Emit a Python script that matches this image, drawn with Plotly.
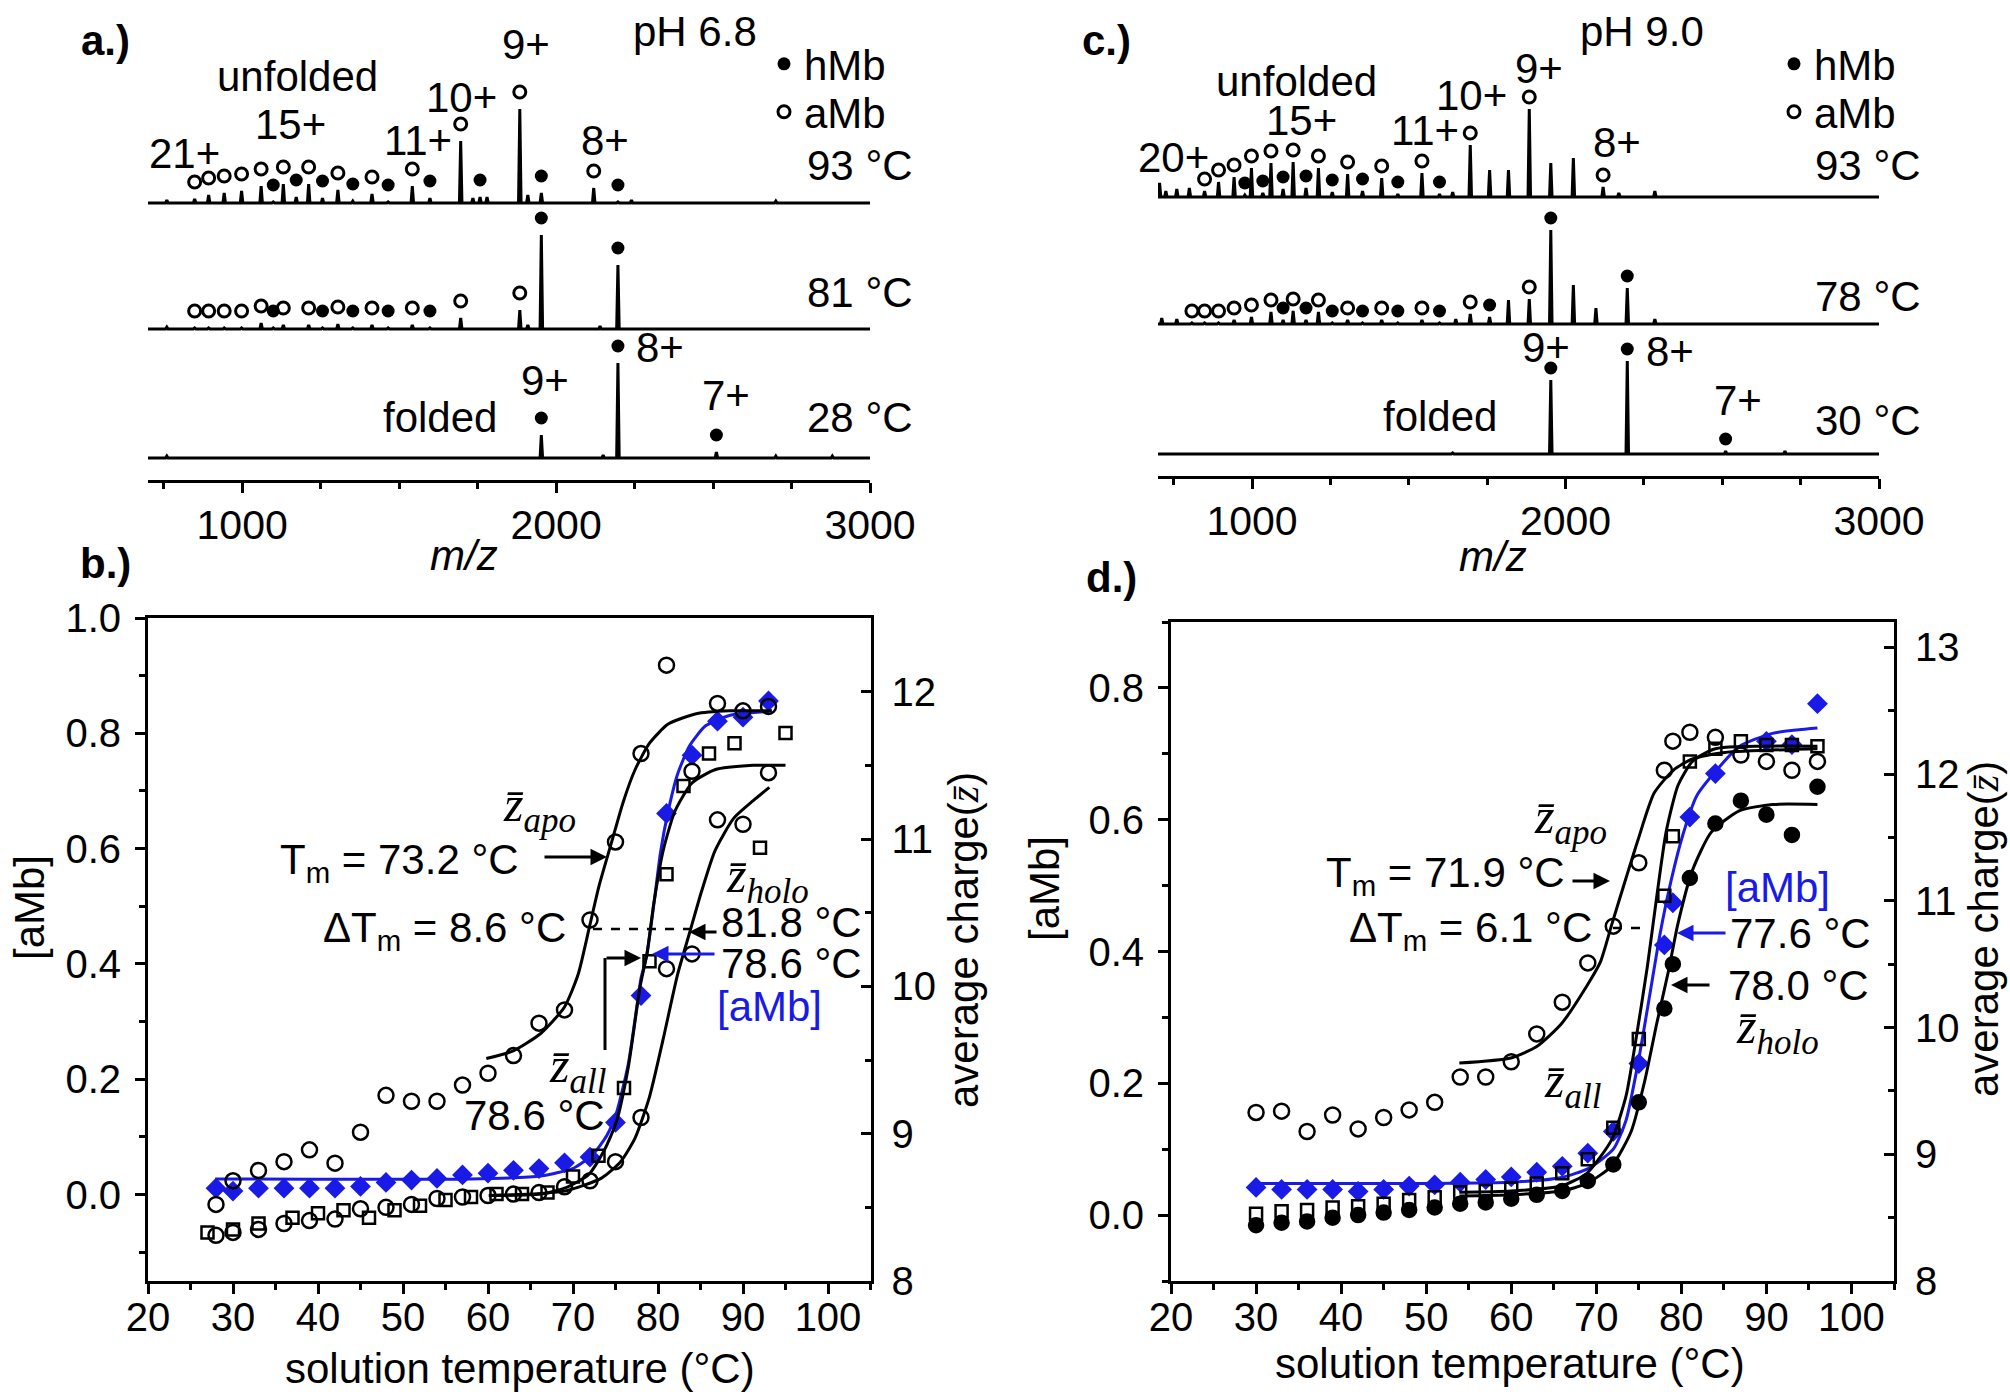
import plotly.graph_objects as go

W, H = 2010, 1396
FONT = "Liberation Sans, Arial, sans-serif"
SERIF = "Liberation Serif, Times New Roman, serif"
BLUE = "#1a1ae6"
FS = 42      # annotation text
FT = 40      # tick labels
ZS = 50      # z-bar labels

# ---------------- mass spectra data (m/z, relative intensity) ----------------
# panel a, pH 6.8
a93_amb_mz = [848.6, 893.2, 942.7, 998.1, 1060.4, 1131.1, 1211.8, 1304.9, 1413.6, 1542.0, 1696.1, 1884.4, 2119.9]
a93_amb_int = [4, 8, 10, 12, 17, 19, 19, 13, 9, 17, 62, 94, 15]
a93_hmb_mz = [1099.0, 1172.2, 1255.9, 1352.4, 1465.0, 1598.1, 1757.8, 1953.0, 2197.0]
a93_hmb_int = [1, 6, 5, 2, 1, 5, 6, 10, 1]
a93_oth_mz = [760, 1735, 1780, 1910, 2240, 2700]
a93_oth_int = [3, 5, 6, 8, 3, 2]

a81_amb_mz = [848.6, 893.2, 942.7, 998.1, 1060.4, 1131.1, 1211.8, 1304.9, 1413.6, 1542.0, 1696.1, 1884.4]
a81_amb_int = [1, 1, 1, 1, 6, 4, 4, 5, 4, 4, 11, 19]
a81_hmb_mz = [1099.0, 1255.9, 1352.4, 1465.0, 1598.1, 1953.0, 2197.0]
a81_hmb_int = [1, 1, 1, 1, 1, 94, 64]
a81_oth_mz = [760, 1910, 2140]
a81_oth_int = [2, 4, 3]

a28_hmb_mz = [1953.0, 2197.0, 2510.7]
a28_hmb_int = [23, 95, 6]
a28_oth_mz = [760, 2150, 2700, 2880]
a28_oth_int = [2, 3, 2, 2]

# panel c, pH 9.0
c93_amb_mz = [848.6, 893.2, 942.7, 998.1, 1060.4, 1131.1, 1211.8, 1304.9, 1413.6, 1542.0, 1696.1, 1884.4, 2119.9]
c93_amb_int = [6, 15, 20, 29, 34, 35, 29, 23, 19, 24, 52, 88, 10]
c93_hmb_mz = [977.0, 1034.4, 1099.0, 1172.2, 1255.9, 1352.4, 1465.0, 1598.1]
c93_hmb_int = [2, 4, 8, 9, 5, 6, 3, 3]
c93_oth_mz = [705, 725, 760, 800, 1640, 1757.8, 1818, 1953.0, 2025, 2170, 2285]
c93_oth_int = [14, 6, 8, 9, 5, 27, 27, 34, 39, 4, 6]

c78_amb_mz = [808.2, 848.6, 893.2, 942.7, 998.1, 1060.4, 1131.1, 1211.8, 1304.9, 1413.6, 1542.0, 1696.1, 1884.4]
c78_amb_int = [1, 1, 1, 4, 7, 12, 13, 12, 4, 4, 4, 10, 25]
c78_hmb_mz = [1099.0, 1172.2, 1255.9, 1352.4, 1465.0, 1598.1, 1757.8, 1953.0, 2197.0]
c78_hmb_int = [4, 4, 1, 1, 1, 1, 7, 94, 36]
c78_oth_mz = [712, 760, 1650, 1818, 2025, 2097, 2285]
c78_oth_int = [6, 5, 5, 24, 39, 16, 5]

c30_hmb_mz = [1953.0, 2197.0, 2510.7]
c30_hmb_int = [74, 93, 3]
c30_oth_mz = [1640, 2700]
c30_oth_int = [1, 3]

mz_ticks = [1000, 2000, 3000]

# ---------------- melting curves ----------------
# panel b (pH 6.8)
b_T = [28, 30, 33, 36, 39, 42, 45, 48, 51, 54, 57, 60, 63, 66, 69, 72, 75, 78, 81, 84, 87, 90, 93]
b_amb = [0.011, 0.006, 0.011, 0.011, 0.011, 0.011, 0.014, 0.021, 0.025, 0.028, 0.034, 0.037, 0.042, 0.045,
         0.055, 0.065, 0.125, 0.345, 0.661, 0.762, 0.821, 0.828, 0.856]
b_zapo = [8.52, 8.68, 8.75, 8.81, 8.89, 8.80, 9.01, 9.26, 9.22, 9.22, 9.33, 9.41, 9.53, 9.75, 9.84, 10.45,
          10.98, 11.58, 12.18, 11.46, 11.92, 11.87, 11.90]
b_zholo = [8.31, 8.33, 8.35, 8.39, 8.41, 8.42, 8.49, 8.50, 8.52, 8.56, 8.57, 8.58, 8.59, 8.60, 8.64, 8.68,
           8.81, 9.11, 10.12, 10.22, 11.13, 11.10, 11.45]
b_T_all = [27, 30, 33, 37, 40, 43, 46, 49, 52, 55, 58, 61, 64, 67, 70, 73, 76, 79, 81, 83, 86, 89, 92, 95]
b_zall = [8.33, 8.35, 8.39, 8.43, 8.46, 8.48, 8.43, 8.48, 8.51, 8.55, 8.57, 8.59, 8.59, 8.60, 8.71, 8.85,
          9.31, 10.17, 10.76, 11.36, 11.58, 11.65, 10.94, 11.72]
b_fit_apo_T = [59.8, 62.9, 66.2, 69.0, 70.6, 72.0, 73.1, 74.5, 75.9, 77.3, 79.0, 81.2, 84.5, 88.4, 93.4]
b_fit_apo_z = [9.51, 9.56, 9.68, 9.86, 10.08, 10.42, 10.69, 10.97, 11.25, 11.47, 11.65, 11.78, 11.85, 11.87, 11.87]
b_fit_all_T = [60.1, 66.2, 69.0, 71.8, 73.7, 75.1, 76.5, 77.9, 78.7, 79.5, 80.6, 82.0, 84.0, 86.7, 91.2, 95.0]
b_fit_all_z = [8.58, 8.59, 8.63, 8.72, 8.89, 9.08, 9.45, 10.00, 10.22, 10.56, 10.92, 11.19, 11.38, 11.47, 11.50, 11.50]
b_fit_holo_T = [60.1, 69.0, 73.4, 75.6, 77.3, 79.0, 80.6, 82.3, 83.7, 85.1, 86.7, 88.9, 91.2, 93.1]
b_fit_holo_z = [8.58, 8.61, 8.70, 8.81, 8.97, 9.25, 9.64, 10.08, 10.36, 10.64, 10.92, 11.14, 11.26, 11.35]
b_fit_amb_T = [27.9, 57.9, 66.2, 70.1, 72.3, 74.0, 75.1, 76.5, 77.3, 78.0, 78.7, 79.5, 80.3, 81.2, 82.3, 83.7,
               85.6, 88.4, 93.1]
b_fit_amb = [0.027, 0.027, 0.032, 0.046, 0.069, 0.103, 0.141, 0.226, 0.304, 0.375, 0.417, 0.502, 0.594, 0.665,
             0.729, 0.778, 0.813, 0.831, 0.838]

# panel d (pH 9.0)
d_T = [30, 33, 36, 39, 42, 45, 48, 51, 54, 57, 60, 63, 66, 69, 72, 75, 78, 79, 81, 84, 87, 90, 93, 96]
d_zapo = [9.33, 9.34, 9.18, 9.31, 9.20, 9.29, 9.35, 9.41, 9.61, 9.61, 9.73, 9.95, 10.20, 10.51, 10.80, 11.30,
          12.03, 12.26, 12.33, 12.29, 12.15, 12.10, 12.03, 12.10]
d_zall = [8.53, 8.55, 8.56, 8.58, 8.59, 8.61, 8.64, 8.66, 8.70, 8.71, 8.73, 8.77, 8.85, 8.96, 9.21, 9.91,
          11.04, 11.51, 12.10, 12.20, 12.26, 12.23, 12.23, 12.22]
d_zholo = [8.44, 8.46, 8.47, 8.50, 8.52, 8.54, 8.56, 8.58, 8.61, 8.62, 8.65, 8.68, 8.71, 8.79, 8.92, 9.41,
           10.15, 10.50, 11.18, 11.61, 11.79, 11.68, 11.52, 11.90]
d_T_amb = [30, 33, 36, 39, 42, 45, 48, 51, 54, 57, 60, 63, 66, 69, 72, 75, 78, 79, 81, 84, 90, 93, 96]
d_amb = [0.042, 0.039, 0.039, 0.039, 0.036, 0.039, 0.044, 0.046, 0.050, 0.054, 0.058, 0.065, 0.074, 0.094,
         0.127, 0.230, 0.410, 0.474, 0.604, 0.670, 0.719, 0.714, 0.776]
d_fit_apo_T = [53.9, 59.95, 63.0, 65.9, 68.9, 70.5, 71.85, 73.5, 74.9, 76.8, 79.05, 81.3, 85.1, 96.0]
d_fit_apo_z = [9.72, 9.76, 9.85, 10.03, 10.33, 10.52, 10.82, 11.18, 11.48, 11.85, 12.03, 12.12, 12.17, 12.20]
d_fit_all_T = [53.9, 59.95, 65.9, 68.9, 71.85, 73.5, 74.6, 76.0, 77.1, 78.2, 79.6, 81.3, 84.0, 96.0]
d_fit_all_z = [8.70, 8.71, 8.75, 8.85, 9.12, 9.46, 9.88, 10.48, 11.03, 11.54, 11.91, 12.10, 12.20, 12.22]
d_fit_holo_T = [53.9, 59.95, 65.9, 68.9, 71.85, 74.1, 75.7, 77.1, 78.5, 79.6, 81.3, 83.5, 86.8, 90.7, 96.0]
d_fit_holo_z = [8.67, 8.68, 8.71, 8.77, 8.91, 9.18, 9.58, 10.03, 10.45, 10.82, 11.24, 11.54, 11.71, 11.76, 11.76]
d_fit_amb_T = [30.06, 59.95, 65.9, 69.1, 72.0, 73.5, 74.9, 76.3, 77.5, 78.8, 80.2, 81.8, 84.0, 86.8, 90.7, 96.0]
d_fit_amb = [0.048, 0.050, 0.057, 0.071, 0.100, 0.144, 0.230, 0.335, 0.427, 0.508, 0.578, 0.636, 0.673,
             0.711, 0.731, 0.739]


def px(X):
    return X / W


def py(Y):
    return 1 - Y / H


fig = go.Figure()


def stick(mz, inten, offset):
    pk = sorted(zip(mz, inten))
    xs, ys = [700], [offset]
    for m, h in pk:
        xs += [m - 4, m, m + 4]
        ys += [offset, offset + h, offset]
    xs.append(3000)
    ys.append(offset)
    return xs, ys


def add_spec(xa, ya, offset, pad, amb, amb_i, hmb, hmb_i, oth, oth_i, leg_h, leg_a, show):
    xs, ys = stick(amb + hmb + oth, amb_i + hmb_i + oth_i, offset)
    fig.add_trace(go.Scatter(x=xs, y=ys, mode="lines", line=dict(color="black", width=3),
                             xaxis=xa, yaxis=ya, showlegend=False, hoverinfo="skip"))
    if hmb:
        fig.add_trace(go.Scatter(x=hmb, y=[offset + h + pad for h in hmb_i], mode="markers",
                                 marker=dict(symbol="circle", size=13, color="black"),
                                 name="hMb", xaxis=xa, yaxis=ya, showlegend=show, legend=leg_h))
    if amb:
        fig.add_trace(go.Scatter(x=amb, y=[offset + h + pad for h in amb_i], mode="markers",
                                 marker=dict(symbol="circle-open", size=12, color="black",
                                             line=dict(width=3, color="black")),
                                 name="aMb", xaxis=xa, yaxis=ya, showlegend=show, legend=leg_a))


# panel a stacks
add_spec("x", "y", 255, 17, a93_amb_mz, a93_amb_int, a93_hmb_mz, a93_hmb_int, a93_oth_mz, a93_oth_int,
         "legend", "legend3", True)
add_spec("x", "y", 129, 17, a81_amb_mz, a81_amb_int, a81_hmb_mz, a81_hmb_int, a81_oth_mz, a81_oth_int,
         "legend", "legend3", False)
add_spec("x", "y", 0, 17, [], [], a28_hmb_mz, a28_hmb_int, a28_oth_mz, a28_oth_int, "legend", "legend3", False)
# panel c stacks
add_spec("x2", "y2", 257, 12, c93_amb_mz, c93_amb_int, c93_hmb_mz, c93_hmb_int, c93_oth_mz, c93_oth_int,
         "legend2", "legend4", True)
add_spec("x2", "y2", 130, 12, c78_amb_mz, c78_amb_int, c78_hmb_mz, c78_hmb_int, c78_oth_mz, c78_oth_int,
         "legend2", "legend4", False)
add_spec("x2", "y2", 0, 12, [], [], c30_hmb_mz, c30_hmb_int, c30_oth_mz, c30_oth_int, "legend2", "legend4", False)


def line(x, y, xa, ya, color="black"):
    fig.add_trace(go.Scatter(x=x, y=y, mode="lines", line=dict(color=color, width=3, shape="spline", smoothing=0.6),
                             xaxis=xa, yaxis=ya, showlegend=False, hoverinfo="skip"))


def pts(x, y, xa, ya, symbol, size, color="black", lw=2.5):
    fig.add_trace(go.Scatter(x=x, y=y, mode="markers",
                             marker=dict(symbol=symbol, size=size, color=color, line=dict(width=lw, color=color)),
                             xaxis=xa, yaxis=ya, showlegend=False, hoverinfo="skip"))


# panel b
line(b_fit_apo_T, b_fit_apo_z, "x3", "y4")
line(b_fit_all_T, b_fit_all_z, "x3", "y4")
line(b_fit_holo_T, b_fit_holo_z, "x3", "y4")
pts(b_T, b_zapo, "x3", "y4", "circle-open", 15)
pts(b_T, b_zholo, "x3", "y4", "circle-open", 15)
pts(b_T_all, b_zall, "x3", "y4", "square-open", 12)
line(b_fit_amb_T, b_fit_amb, "x3", "y3", BLUE)
pts(b_T, b_amb, "x3", "y3", "diamond", 16, BLUE, 0)

# panel d
line(d_fit_apo_T, d_fit_apo_z, "x4", "y6")
line(d_fit_all_T, d_fit_all_z, "x4", "y6")
line(d_fit_holo_T, d_fit_holo_z, "x4", "y6")
pts(d_T, d_zapo, "x4", "y6", "circle-open", 15)
pts(d_T, d_zall, "x4", "y6", "square-open", 12)
pts(d_T, d_zholo, "x4", "y6", "circle", 14)
line(d_fit_amb_T, d_fit_amb, "x4", "y5", BLUE)
pts(d_T_amb, d_amb, "x4", "y5", "diamond", 16, BLUE, 0)

# ---------------- axes ----------------
common = dict(automargin=False, showgrid=False, zeroline=False, linecolor="black", tickcolor="black")
spec_x = dict(range=[700, 3000], tickvals=mz_ticks, ticks="outside", ticklen=10, tickwidth=3,
              minor=dict(dtick=250, tick0=0, ticks="outside", ticklen=6, tickwidth=2.5, tickcolor="black"),
              showline=True, linewidth=3, tickfont=dict(family=FONT, size=41, color="black"),
              ticklabelstandoff=-3, **common)
temp_x = dict(range=[20, 105], dtick=10, tick0=20, ticks="outside", ticklen=10, tickwidth=3,
              minor=dict(dtick=5, ticks="outside", ticklen=6, tickwidth=2.5, tickcolor="black"),
              showline=True, linewidth=3, mirror=True, tickfont=dict(family=FONT, size=FT, color="black"),
              ticklabelstandoff=-11, **common)
left_y = dict(dtick=0.2, tick0=0, tickformat=".1f", ticks="outside", ticklen=10, tickwidth=3,
              minor=dict(dtick=0.1, ticks="outside", ticklen=6, tickwidth=2.5, tickcolor="black"),
              showline=True, linewidth=3, tickfont=dict(family=FONT, size=FT, color="black"),
              ticklabelstandoff=6, **common)
right_y = dict(dtick=1, tick0=8, ticks="inside", ticklen=10, tickwidth=3, side="right",
               minor=dict(dtick=0.5, ticks="inside", ticklen=6, tickwidth=2.5, tickcolor="black"),
               showline=True, linewidth=3, tickfont=dict(family=FONT, size=FT, color="black"),
               ticklabelstandoff=10, **common)


def leg(X, Ytop):
    return dict(x=px(X), y=py(Ytop), xanchor="left", yanchor="top", bgcolor="rgba(0,0,0,0)",
                font=dict(family=FONT, size=FS, color="black"), itemwidth=30, tracegroupgap=0)


fig.update_layout(
    template="none",
    width=W, height=H, margin=dict(l=0, r=0, t=0, b=0, pad=0, autoexpand=False),
    paper_bgcolor="white", plot_bgcolor="white", hovermode=False,
    font=dict(family=FONT, size=FS, color="black"),
    xaxis=dict(domain=[px(148), px(870)], anchor="y", **spec_x),
    yaxis=dict(domain=[py(480), py(40)], range=[-22, 418], visible=False, anchor="x", automargin=False),
    xaxis2=dict(domain=[px(1158), px(1879)], anchor="y2", **spec_x),
    yaxis2=dict(domain=[py(476), py(40)], range=[-22, 414], visible=False, anchor="x2", automargin=False),
    xaxis3=dict(domain=[px(148), px(870.5)], anchor="y3", **temp_x),
    yaxis3=dict(domain=[py(1281), py(618)], range=[-0.15, 1.0], anchor="x3", **left_y),
    yaxis4=dict(range=[8, 12.5], overlaying="y3", anchor="x3", **right_y),
    xaxis4=dict(domain=[px(1171), px(1894)], anchor="y5", **temp_x),
    yaxis5=dict(domain=[py(1281), py(622)], range=[-0.1, 0.9], anchor="x4", **left_y),
    yaxis6=dict(range=[8, 13.2], overlaying="y5", anchor="x4", **right_y),
    legend=leg(764, 30),
    legend3=leg(764, 78),
    legend2=leg(1774, 30),
    legend4=leg(1774, 78),
)

# ---------------- text labels ----------------
def zbar(sub):
    return ('<span style="font-family:%s"><i>z̄</i><sub><i>%s</i></sub></span>' % (SERIF, sub))


ZCHG = 'average charge(<span style="font-family:%s"><i>z̄</i></span>)' % SERIF
labels = [
    # panel a
    ("<b>a.)</b>", 105, 41, FS, "black", 0),
    ("pH 6.8", 695, 32, FS, "black", 0),
    ("9+", 526, 45, FS, "black", 0),
    ("unfolded", 297, 77, FS, "black", 0),
    ("10+", 461, 97, FS, "black", 0),
    ("15+", 290, 124, FS, "black", 0),
    ("11+", 418, 140, FS, "black", 0),
    ("8+", 605, 140, FS, "black", 0),
    ("21+", 184, 153, FS, "black", 0),
    ("93 °C", 860, 165, FS, "black", 0),
    ("81 °C", 860, 293, FS, "black", 0),
    ("8+", 660, 348, FS, "black", 0),
    ("9+", 545, 381, FS, "black", 0),
    ("7+", 726, 395, FS, "black", 0),
    ("folded", 440, 418, FS, "black", 0),
    ("28 °C", 860, 418, FS, "black", 0),
    ("<i>m/z</i>", 464, 555, FS, "black", 0),
    # panel c
    ("<b>c.)</b>", 1106, 41, FS, "black", 0),
    ("pH 9.0", 1642, 32, FS, "black", 0),
    ("9+", 1539, 68, FS, "black", 0),
    ("unfolded", 1296, 82, FS, "black", 0),
    ("10+", 1471, 95, FS, "black", 0),
    ("15+", 1301, 121, FS, "black", 0),
    ("11+", 1425, 130, FS, "black", 0),
    ("8+", 1617, 142, FS, "black", 0),
    ("20+", 1173, 157, FS, "black", 0),
    ("93 °C", 1868, 166, FS, "black", 0),
    ("78 °C", 1868, 296, FS, "black", 0),
    ("9+", 1546, 348, FS, "black", 0),
    ("8+", 1670, 352, FS, "black", 0),
    ("7+", 1738, 400, FS, "black", 0),
    ("folded", 1440, 416, FS, "black", 0),
    ("30 °C", 1868, 420, FS, "black", 0),
    ("<i>m/z</i>", 1493, 557, FS, "black", 0),
    # panel b
    ("<b>b.)</b>", 105, 563, FS, "black", 0),
    (zbar("apo"), 539, 808, ZS, "black", 0),
    ("T<sub>m</sub> = 73.2 °C", 399, 862, FS, "black", 0),
    ("ΔT<sub>m</sub> = 8.6 °C", 444, 930, FS, "black", 0),
    (zbar("holo"), 767, 879, ZS, "black", 0),
    ("81.8 °C", 791, 922, FS, "black", 0),
    ("78.6 °C", 791, 963, FS, "black", 0),
    ("[aMb]", 769, 1006, FS, BLUE, 0),
    (zbar("all"), 577, 1069, ZS, "black", 0),
    ("78.6 °C", 534, 1115, FS, "black", 0),
    ("solution temperature (°C)", 520, 1368, FS, "black", 0),
    ("[aMb]", 29, 908, FS, "black", -90),
    (ZCHG, 963, 940, FS, "black", -90),
    # panel d
    ("<b>d.)</b>", 1111, 578, FS, "black", 0),
    (zbar("apo"), 1570, 820, ZS, "black", 0),
    ("T<sub>m</sub> = 71.9 °C", 1445, 875, FS, "black", 0),
    ("ΔT<sub>m</sub> = 6.1 °C", 1470, 930, FS, "black", 0),
    ("[aMb]", 1777, 887, FS, BLUE, 0),
    ("77.6 °C", 1800, 933, FS, "black", 0),
    ("78.0 °C", 1798, 985, FS, "black", 0),
    (zbar("holo"), 1777, 1030, ZS, "black", 0),
    (zbar("all"), 1572, 1084, ZS, "black", 0),
    ("solution temperature (°C)", 1510, 1363, FS, "black", 0),
    ("[aMb]", 1044, 889, FS, "black", -90),
    (ZCHG, 1984, 929, FS, "black", -90),
]
for t, X, Y, s, c, ang in labels:
    fig.add_annotation(text=t, x=px(X), y=py(Y), xref="paper", yref="paper", showarrow=False,
                       xanchor="center", yanchor="middle", textangle=ang,
                       font=dict(family=FONT, size=s, color=c))

# arrows: (head X, head Y, tail dx, color)
arrows = [
    (607, 857, -64, "black"),
    (689, 932, 29, "black"),
    (652, 954, 64, BLUE),
    (641, 958, -36, "black"),
    (1610, 881, -39, "black"),
    (1677, 933, 50, BLUE),
    (1671, 985, 40, "black"),
]
for X, Y, dx, c in arrows:
    fig.add_annotation(text="", x=px(X), y=py(Y), xref="paper", yref="paper", showarrow=True,
                       ax=dx, ay=0, arrowhead=2, arrowsize=1.1, arrowwidth=3, arrowcolor=c, standoff=0)

# connector lines
fig.add_shape(type="line", xref="paper", yref="paper", x0=px(605), x1=px(605), y0=py(1050), y1=py(958),
              line=dict(color="black", width=3))
fig.add_shape(type="line", xref="paper", yref="paper", x0=px(593), x1=px(697), y0=py(929), y1=py(929),
              line=dict(color="black", width=2.5, dash="dash"))
fig.add_shape(type="line", xref="paper", yref="paper", x0=px(1613), x1=px(1646), y0=py(928), y1=py(928),
              line=dict(color="black", width=2.5, dash="dash"))

fig.write_html("out.html", config={"displayModeBar": False},
               post_script="document.body.style.margin='0';document.body.style.overflow='hidden';")
